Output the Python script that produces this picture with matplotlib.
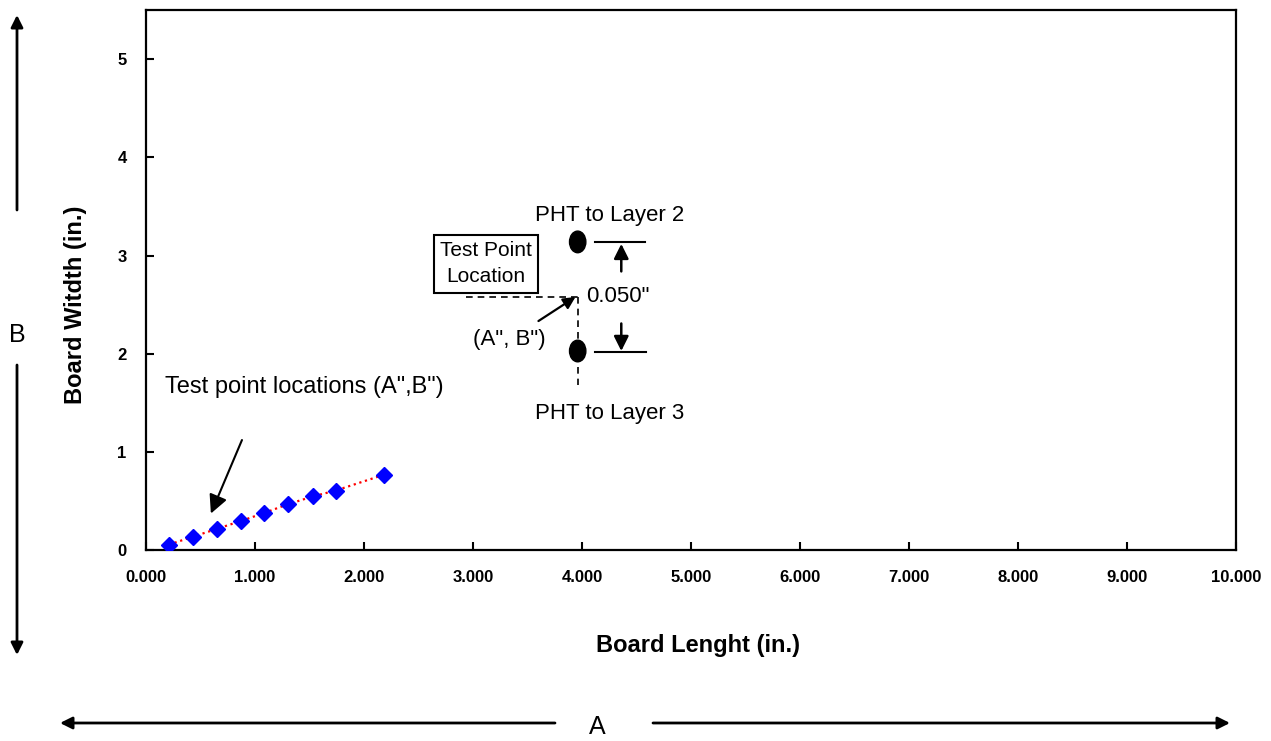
import matplotlib
matplotlib.use("Agg")
import matplotlib.pyplot as plt
from matplotlib.patches import Ellipse
from matplotlib.ticker import FormatStrFormatter, MultipleLocator

plt.rcParams['font.family'] = ['Liberation Sans', 'DejaVu Sans']

# test point locations (A", B")
board_len = [0.21, 0.43, 0.65, 0.87, 1.08, 1.30, 1.53, 1.74, 2.18]
board_wid = [0.06, 0.14, 0.22, 0.30, 0.38, 0.47, 0.55, 0.61, 0.77]

# plated holes in the detail sketch
pht_x = 3.96
pht_y = [3.14, 2.03]

fig = plt.figure(figsize=(12.71, 7.41), dpi=100)
ax = fig.add_axes([0.1149, 0.2571, 0.9725 - 0.1149, 0.9865 - 0.2571])

ax.plot(board_len, board_wid, color='red', linestyle=':', linewidth=1.6, zorder=2)
ax.plot(board_len, board_wid, linestyle='none', marker='D', markersize=8.5,
        color='#0000ff', zorder=3)

ax.set_xlim(0, 10)
ax.set_ylim(0, 5.5)
ax.xaxis.set_major_locator(MultipleLocator(1))
ax.yaxis.set_major_locator(MultipleLocator(1))
ax.xaxis.set_major_formatter(FormatStrFormatter('%.3f'))
ax.yaxis.set_major_formatter(FormatStrFormatter('%d'))
for s in ax.spines.values():
    s.set_linewidth(1.6)
ax.tick_params(direction='in', length=6, width=1.5, pad=14, labelsize=12)
for lab in ax.get_xticklabels() + ax.get_yticklabels():
    lab.set_fontweight('bold')

ax.set_xlabel('Board Lenght (in.)', fontsize=17, fontweight='bold')
ax.set_ylabel('Board Witdth (in.)', fontsize=17, fontweight='bold')
ax.xaxis.set_label_coords(0.506, -0.175)
ax.xaxis.label.set_va('center')
ax.yaxis.set_label_coords(-0.065, 0.454)
ax.yaxis.label.set_va('center')

# note for the test points
ax.text(0.17, 1.66, 'Test point locations (A",B")', fontsize=17,
        ha='left', va='center')
ax.annotate('', xy=(0.585, 0.35), xytext=(0.89, 1.15),
            arrowprops=dict(arrowstyle='-|>', mutation_scale=28, color='black', lw=1.5))

# detail sketch
for y in pht_y:
    ax.add_patch(Ellipse((pht_x, y), 0.15, 0.22, color='black', zorder=4))
ax.plot([4.12, 4.575], [pht_y[0], pht_y[0]], color='black', lw=1.5)
ax.plot([4.12, 4.585], [pht_y[1] - 0.01, pht_y[1] - 0.01], color='black', lw=1.5)
ax.annotate('', xy=(4.36, 3.12), xytext=(4.36, 2.84),
            arrowprops=dict(arrowstyle='-|>', mutation_scale=22, color='black', lw=1.8,
                            shrinkA=0, shrinkB=0))
ax.annotate('', xy=(4.36, 2.03), xytext=(4.36, 2.31),
            arrowprops=dict(arrowstyle='-|>', mutation_scale=22, color='black', lw=1.8,
                            shrinkA=0, shrinkB=0))
ax.text(4.33, 2.58, '0.050"', fontsize=16, ha='center', va='center')
ax.text(4.25, 3.41, 'PHT to Layer 2', fontsize=16, ha='center', va='center')
ax.text(4.25, 1.39, 'PHT to Layer 3', fontsize=16, ha='center', va='center')

ax.plot([2.935, pht_x], [2.58, 2.58], color='black', lw=1.2, linestyle=(0, (4, 3)))
ax.plot([pht_x, pht_x], [2.58, 1.68], color='black', lw=1.2, linestyle=(0, (4, 3)), zorder=1)
ax.text(3.12, 2.92, 'Test Point\nLocation', fontsize=15, ha='center',
        va='center', linespacing=1.5,
        bbox=dict(boxstyle='square,pad=0.3', fc='none', ec='black', lw=1.5))
ax.text(3.33, 2.15, '(A", B")', fontsize=16, ha='center', va='center')
ax.annotate('', xy=(3.94, 2.58), xytext=(3.6, 2.335),
            arrowprops=dict(arrowstyle='-|>', mutation_scale=18, color='black', lw=1.6,
                            shrinkA=0, shrinkB=0))

# dimension arrows outside the axes
W, H = 1271.0, 741.0
def fp(px, py):
    return (px / W, 1 - py / H)

aprops = dict(arrowstyle='-|>', mutation_scale=18, color='black', lw=2, shrinkA=0, shrinkB=0)
fig.text(*fp(17, 335), 'B', fontsize=18, ha='center', va='center')
ax.annotate('', xy=fp(17, 15), xytext=fp(17, 210), xycoords='figure fraction',
            textcoords='figure fraction', arrowprops=aprops)
ax.annotate('', xy=fp(17, 655), xytext=fp(17, 365), xycoords='figure fraction',
            textcoords='figure fraction', arrowprops=aprops)
fig.text(*fp(597, 727), 'A', fontsize=18, ha='center', va='center')
ax.annotate('', xy=fp(60, 723), xytext=fp(555, 723), xycoords='figure fraction',
            textcoords='figure fraction', arrowprops=aprops)
ax.annotate('', xy=fp(1230, 723), xytext=fp(653, 723), xycoords='figure fraction',
            textcoords='figure fraction', arrowprops=aprops)

fig.savefig('out.png', dpi=100)
